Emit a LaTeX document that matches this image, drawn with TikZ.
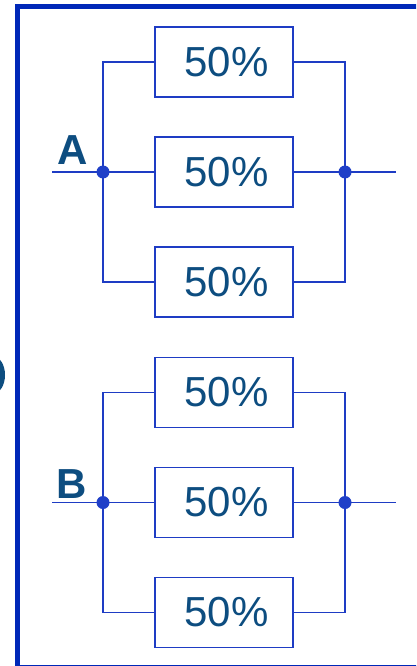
\documentclass[tikz,border=0pt]{standalone}
\usepackage{fontspec}
\setmainfont{Liberation Sans}
\definecolor{framec}{RGB}{0,40,184}
\definecolor{wirec}{RGB}{30,60,196}
\definecolor{textc}{RGB}{13,77,128}
\definecolor{dotc}{RGB}{32,64,200}
\tikzset{
  frameline/.style={draw=framec, line width=5pt},
  wire/.style={draw=wirec, line width=1.15pt},
  pbox/.style={draw=wirec, line width=1.15pt, fill=white, minimum width=138pt, minimum height=70pt, inner sep=0pt, text=textc, font=\fontsize{42}{42}\selectfont},
  lab/.style={text=textc, font=\fontsize{42}{42}\selectfont\bfseries, inner sep=0pt},
  jdot/.style={fill=dotc}
}
\begin{document}
\begin{tikzpicture}[x=1pt,y=-1pt]
\useasboundingbox (0,0) rectangle (416,666);
\clip (0,0) rectangle (416,666);
\fill[white] (0,0) rectangle (416,666);
% frame
\draw[frameline] (17.5,6.5) rectangle (440,667.8);
% partial glyph at the left edge
\fill[textc] (-6,375) ellipse (11 and 18);
% ---------- group A ----------
\node[pbox] (a1) at (224,62) {\hspace*{5pt}50\%};
\node[pbox] (a2) at (224,172) {\hspace*{5pt}50\%};
\node[pbox] (a3) at (224,282) {\hspace*{5pt}50\%};
\coordinate (La) at (103,172);
\coordinate (Ra) at (345,172);
\coordinate (inA) at (52,172);
\coordinate (outA) at (396,172);
\draw[wire] (a1.west) -| (La) |- (a3.west);
\draw[wire] (inA) -- (La) -- (a2.west);
\draw[wire] (a1.east) -| (Ra) |- (a3.east);
\draw[wire] (a2.east) -- (Ra) -- (outA);
\fill[jdot] (La) circle (6.5);
\fill[jdot] (Ra) circle (6.5);
\node[lab, anchor=base] (labA) at (73,164) {A};
% ---------- group B ----------
\node[pbox] (b1) at (224,392.5) {\hspace*{5pt}50\%};
\node[pbox] (b2) at (224,502.5) {\hspace*{5pt}50\%};
\node[pbox] (b3) at (224,612.5) {\hspace*{5pt}50\%};
\coordinate (Lb) at (103,502.5);
\coordinate (Rb) at (345,502.5);
\coordinate (inB) at (52,502.5);
\coordinate (outB) at (396,502.5);
\draw[wire] (b1.west) -| (Lb) |- (b3.west);
\draw[wire] (inB) -- (Lb) -- (b2.west);
\draw[wire] (b1.east) -| (Rb) |- (b3.east);
\draw[wire] (b2.east) -- (Rb) -- (outB);
\fill[jdot] (Lb) circle (6.5);
\fill[jdot] (Rb) circle (6.5);
\node[lab, anchor=base] (labB) at (72,498) {B};
\end{tikzpicture}
\end{document}
